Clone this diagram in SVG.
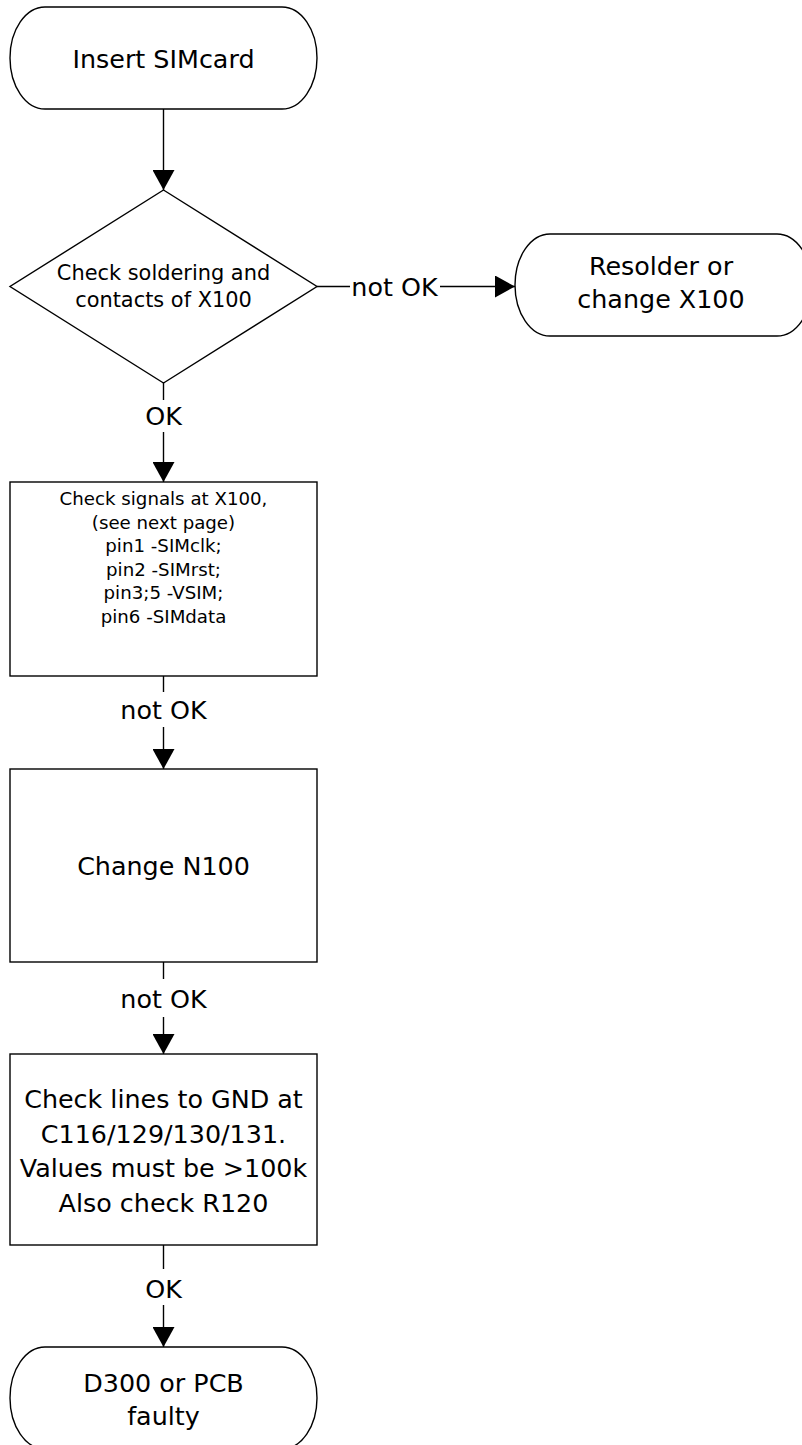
<svg xmlns="http://www.w3.org/2000/svg" width="802" height="1445" viewBox="0 0 802 1445">
  <style>
    .shape { fill: #ffffff; stroke: #000000; stroke-width: 1.4; }
    .edge { fill: none; stroke: #000000; stroke-width: 1.4; }
    text { font-family: "DejaVu Sans", Verdana, sans-serif; fill: #000000; text-anchor: middle; }
    .big { font-size: 25.4px; }
    .mid { font-size: 20.9px; }
    .small { font-size: 18.2px; }
  </style>
  <defs>
    <marker id="arrow" viewBox="0 0 20 22" refX="20" refY="11" markerWidth="20" markerHeight="22" markerUnits="userSpaceOnUse" orient="auto">
      <path d="M0,0 L20,11 L0,22 Z" fill="#000000"/>
    </marker>
  </defs>
  <rect x="0" y="0" width="802" height="1445" fill="#ffffff"/>

  <!-- connectors -->
  <g id="connectors">
    <line class="edge" x1="163.5" y1="109" x2="163.5" y2="190" marker-end="url(#arrow)"/>

    <line class="edge" x1="317" y1="286.5" x2="350" y2="286.5"/>
    <text class="big" x="394.5" y="296">not OK</text>
    <line class="edge" x1="440" y1="286.5" x2="515" y2="286.5" marker-end="url(#arrow)"/>

    <line class="edge" x1="163.5" y1="383" x2="163.5" y2="400"/>
    <text class="big" x="163.5" y="425">OK</text>
    <line class="edge" x1="163.5" y1="432" x2="163.5" y2="482" marker-end="url(#arrow)"/>

    <line class="edge" x1="163.5" y1="676" x2="163.5" y2="692"/>
    <text class="big" x="163.5" y="719">not OK</text>
    <line class="edge" x1="163.5" y1="727" x2="163.5" y2="769" marker-end="url(#arrow)"/>

    <line class="edge" x1="163.5" y1="962" x2="163.5" y2="979"/>
    <text class="big" x="163.5" y="1008">not OK</text>
    <line class="edge" x1="163.5" y1="1017" x2="163.5" y2="1054" marker-end="url(#arrow)"/>

    <line class="edge" x1="163.5" y1="1245" x2="163.5" y2="1269"/>
    <text class="big" x="163.5" y="1298">OK</text>
    <line class="edge" x1="163.5" y1="1305" x2="163.5" y2="1347" marker-end="url(#arrow)"/>
  </g>

  <!-- start terminator -->
  <g id="insert-simcard">
    <path class="shape" d="M45,7 H282 A35,51 0 0 1 282,109 H45 A35,51 0 0 1 45,7 Z"/>
    <text class="big" x="163.5" y="68">Insert SIMcard</text>
  </g>

  <!-- decision -->
  <g id="check-soldering">
    <polygon class="shape" points="163.5,190 317,286.5 163.5,383 10,286.5"/>
    <text class="mid" x="163.5" y="280">Check soldering and</text>
    <text class="mid" x="163.5" y="307">contacts of X100</text>
  </g>

  <!-- resolder terminator -->
  <g id="resolder">
    <path class="shape" d="M550,234 H777 A35,51 0 0 1 777,336 H550 A35,51 0 0 1 550,234 Z"/>
    <text class="big" x="661" y="275">Resolder or</text>
    <text class="big" x="661" y="308">change X100</text>
  </g>

  <!-- signal check -->
  <g id="check-signals">
    <rect class="shape" x="10" y="482" width="307" height="194"/>
    <text class="small" x="163.5" y="505">Check signals at X100,</text>
    <text class="small" x="163.5" y="528.6">(see next page)</text>
    <text class="small" x="163.5" y="552.2">pin1 -SIMclk;</text>
    <text class="small" x="163.5" y="575.8">pin2 -SIMrst;</text>
    <text class="small" x="163.5" y="599.4">pin3;5 -VSIM;</text>
    <text class="small" x="163.5" y="623">pin6 -SIMdata</text>
  </g>

  <!-- change N100 -->
  <g id="change-n100">
    <rect class="shape" x="10" y="769" width="307" height="193"/>
    <text class="big" x="163.5" y="875">Change N100</text>
  </g>

  <!-- GND lines check -->
  <g id="check-lines">
    <rect class="shape" x="10" y="1054" width="307" height="191"/>
    <text class="big" x="163.5" y="1108">Check lines to GND at</text>
    <text class="big" x="163.5" y="1143">C116/129/130/131.</text>
    <text class="big" x="163.5" y="1177">Values must be &gt;100k</text>
    <text class="big" x="163.5" y="1212">Also check R120</text>
  </g>

  <!-- end terminator -->
  <g id="d300-faulty">
    <path class="shape" d="M45,1347 H282 A35,51 0 0 1 282,1449 H45 A35,51 0 0 1 45,1347 Z"/>
    <text class="big" x="163.5" y="1392">D300 or PCB</text>
    <text class="big" x="163.5" y="1425">faulty</text>
  </g>
</svg>
